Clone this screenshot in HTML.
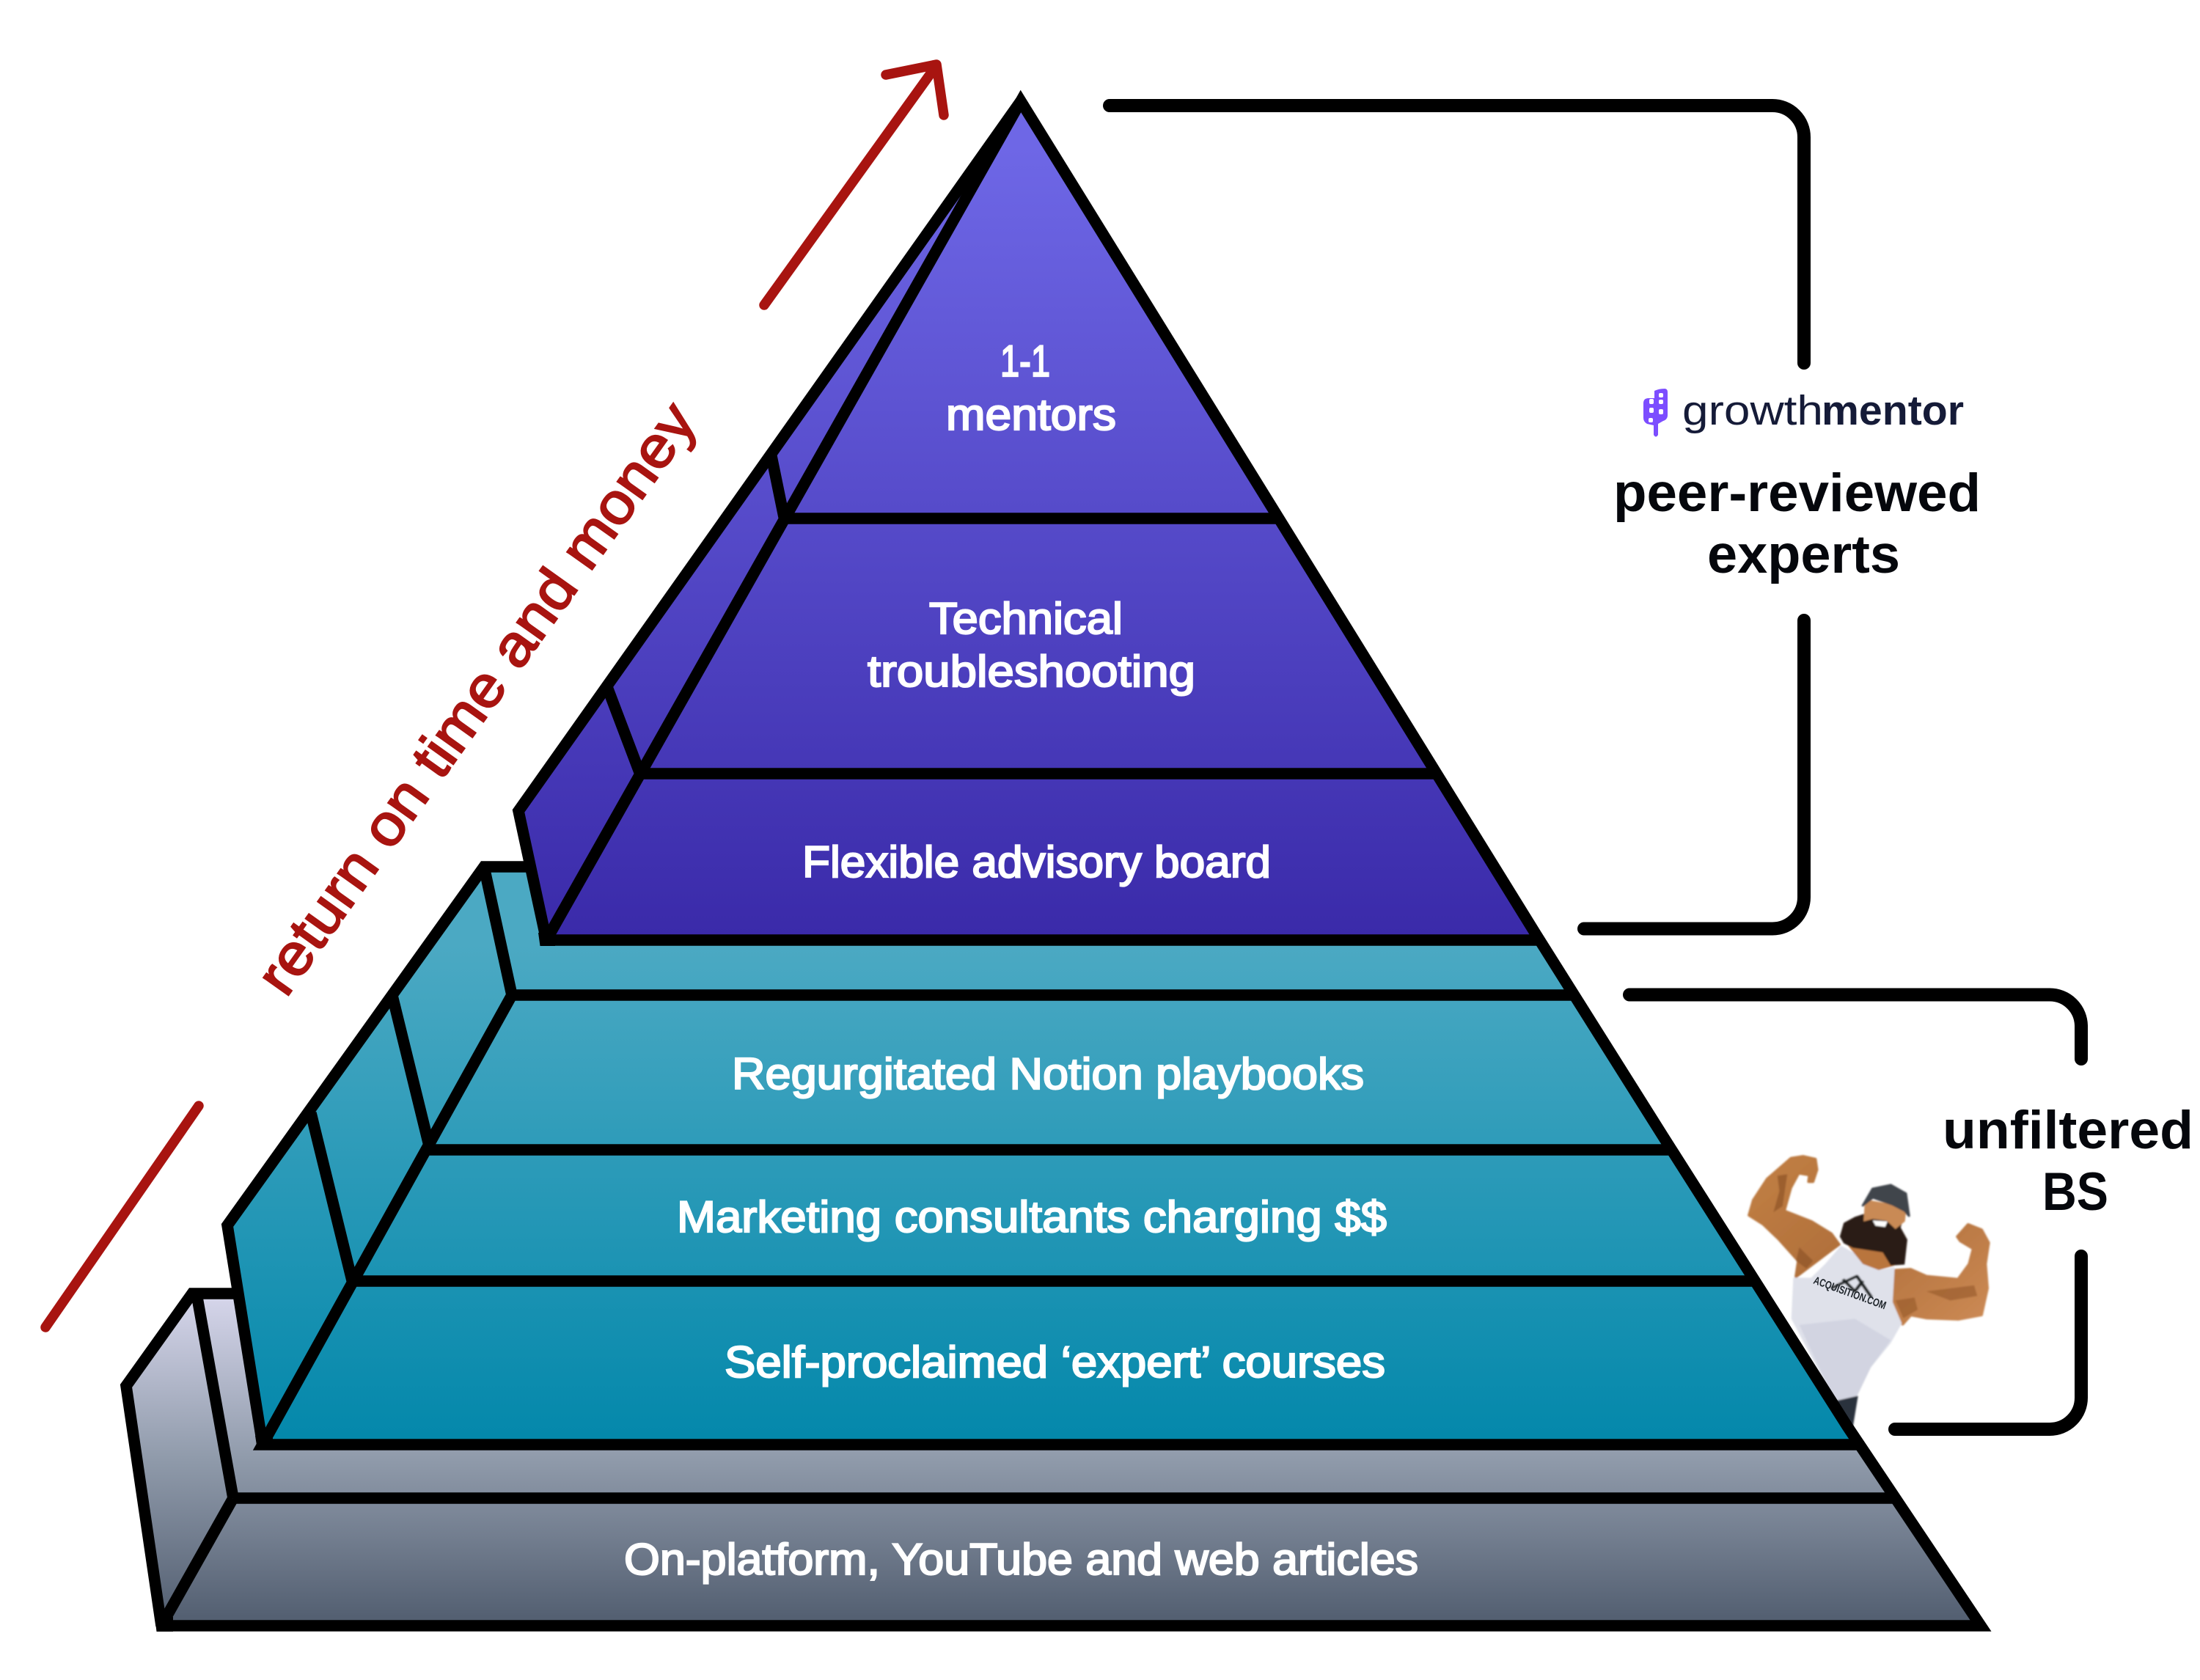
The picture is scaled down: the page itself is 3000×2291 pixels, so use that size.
<!DOCTYPE html>
<html><head><meta charset="utf-8"><style>
html,body{margin:0;padding:0;background:#fff}
svg{display:block}
text{font-family:"Liberation Sans",sans-serif}
.l{font-size:60px;fill:#fff;stroke:#fff;stroke-width:2.2px;font-weight:400}
.h{font-size:73px;fill:#05070c;font-weight:700}
</style></head><body>
<svg xmlns="http://www.w3.org/2000/svg" width="3000" height="2291" viewBox="0 0 3000 2291">
<defs>
<linearGradient id="p" gradientUnits="userSpaceOnUse" x1="0" y1="200" x2="0" y2="1280"><stop offset="0" stop-color="#6e67e6"/><stop offset="1" stop-color="#3a2aa9"/></linearGradient>
<linearGradient id="t" gradientUnits="userSpaceOnUse" x1="0" y1="1290" x2="0" y2="1960"><stop offset="0" stop-color="#4ba9c3"/><stop offset="1" stop-color="#0488ab"/></linearGradient>
<linearGradient id="g" gradientUnits="userSpaceOnUse" x1="0" y1="1770" x2="0" y2="2212"><stop offset="0" stop-color="#d5d5ea"/><stop offset=".5" stop-color="#8f9aaa"/><stop offset=".65" stop-color="#7d8899"/><stop offset="1" stop-color="#525e70"/></linearGradient>
<linearGradient id="sk" gradientUnits="userSpaceOnUse" x1="430" y1="430" x2="1040" y2="960"><stop offset="0" stop-color="#c28045"/><stop offset=".5" stop-color="#b06f3a"/><stop offset="1" stop-color="#cc8a55"/></linearGradient>
<filter id="soft" x="-5%" y="-5%" width="110%" height="110%"><feGaussianBlur stdDeviation="1.1"/></filter>
</defs>

<!-- man -->
<g filter="url(#soft)">
<g transform="translate(2150,1400) scale(.542,.415)" stroke-linejoin="round">
<path fill="url(#sk)" stroke="url(#sk)" stroke-width="8" d="M540 432 L570 426 L600 435 L604 470 L594 510 L584 510 L586 488 L558 482 L538 530 L522 605 L590 640 L640 680 L660 716 L640 735 L552 822 L558 770 L510 700 L470 650 L434 620 L445 570 L480 500Z"/>
<path fill="#8f5427" opacity=".7" d="M505 490 L530 485 L518 590 L495 610 L510 540Z M560 725 L595 770 L578 795 L552 770Z"/>
<path fill="url(#sk)" stroke="url(#sk)" stroke-width="8" d="M958 690 L985 650 L1018 667 L1036 710 L1028 780 L1033 860 L1018 948 L960 962 L880 958 L840 948 L820 978 L797 920 L802 800 L840 797 L880 820 L960 830 L988 780 L998 730 L966 705Z"/>
<path fill="#8f5427" opacity=".55" d="M802 900 L850 890 L858 930 L822 958Z M880 870 L1000 850 L1008 885 L940 900Z"/>
<path fill="#dfe1ea" d="M665 720 L625 780 L590 825 L545 825 L540 960 L560 1010 L650 1232 L705 1215 L740 1120 L790 1040 L818 975 L795 905 L800 790 L760 800 L700 745Z"/>
<path fill="#c9ccda" opacity=".6" d="M560 980 L700 960 L790 1030 L740 1120 L705 1215 L650 1232Z"/>
<path fill="#29323c" d="M650 1230 L708 1213 L695 1315 L680 1300Z"/>
<path fill="#b9743c" d="M683 720 L720 780 L760 800 L800 785 L790 730 L730 700Z"/>
<path fill="#2c1c16" d="M700 625 L672 645 L662 690 L672 712 L695 727 L735 735 L770 742 L790 785 L825 782 L832 700 L815 660 L825 620 L760 600Z"/>
<path fill="#c98a55" d="M724 590 L735 570 L830 592 L826 640 L802 665 L780 638 L745 632 L722 640Z"/>
<path fill="#fff" d="M745 637 L782 640 L776 658 L752 654Z"/>
<path fill="#40454c" stroke="#40454c" stroke-width="6" stroke-linejoin="round" d="M720 588 L745 532 L790 520 L828 548 L836 622 L826 606 L795 585 L745 562Z"/>
<path fill="none" stroke="#1c2024" stroke-width="9" d="M640 860 L705 820 L742 890 M670 830 L700 870 L720 835"/>
</g>
</g>
<text transform="translate(2472,1750) rotate(20)" font-size="15" font-weight="700" fill="#20262c" textLength="104" lengthAdjust="spacingAndGlyphs">ACQUISITION.COM</text>

<!-- fills -->
<polygon fill="url(#g)" points="262,1764 172,1890 220,2217 318,2043"/>
<polygon fill="url(#g)" points="268,1764 318,2043 2584,2043 2535,1970 358,1970 325,1764"/>
<polygon fill="url(#g)" points="318,2043 220,2217 2701,2217 2584,2043"/>
<polygon fill="url(#t)" points="660,1182 310,1671 358,1970 698,1357"/>
<polygon fill="url(#t)" points="660,1182 698,1357 2149,1357 2102,1282 745,1282 718,1182"/>
<polygon fill="url(#t)" points="698,1357 358,1970 2530,1970 2149,1357"/>
<polygon fill="url(#p)" points="1392,138 707,1108 745,1282"/>
<polygon fill="url(#p)" points="1392,138 2100,1282 745,1282"/>

<!-- lines -->
<g fill="none" stroke="#000" stroke-width="15.5" stroke-linejoin="miter" stroke-miterlimit="12">
<path d="M220 2217 L172 1890 L262 1764 L325 1764"/>
<path d="M268 1764 L318 2043 M318 2043 L220 2217"/>
<path d="M318 2043 H2584"/>
<path d="M358 1970 L310 1671 L660 1182 L718 1182"/>
<path d="M660 1182 L698 1357 L358 1970 H2535"/>
<path d="M698 1357 H2149"/>
<path d="M582 1568 H2280 M482 1747 H2391"/>
<path d="M424 1518 L480 1746 M535 1358 L586 1566"/>
<path d="M745 1282 L707 1106 L1392 138"/>
<path d="M745 1282 H2102"/>
<path d="M1071 707 H1745 M874 1055 H1961"/>
<path d="M1052 622 L1069 705 M828 937 L872 1053"/>
<path d="M220 2217 H2701 L2519 1945 L2268 1550 L2095 1275 L1392 138 L745 1282"/>
</g>
<!-- corner fillers -->
<g fill="#000">
<polygon points="213.5,2225 236,2225 236,2205 211,2205"/>
<polygon points="351,1977 372,1977 372,1958 348,1958"/>
<polygon points="736.5,1290 757,1290 757,1272 734,1272"/>
</g>

<!-- brackets -->
<g fill="none" stroke="#000" stroke-width="18" stroke-linecap="round">
<path d="M1513 144 H2417 A43 43 0 0 1 2460 187 V495"/>
<path d="M2460 846 V1223.5 A43 43 0 0 1 2417 1266.5 H2160"/>
<path d="M2222 1356.5 H2795 A43 43 0 0 1 2838 1399.5 V1444"/>
<path d="M2838 1713 V1906 A43 43 0 0 1 2795 1949 H2584"/>
</g>

<!-- red arrows -->
<g fill="none" stroke="#a81410" stroke-width="13.5" stroke-linecap="round" stroke-linejoin="round">
<path d="M62 1810 L271 1508"/>
<path d="M1042 416 L1275 92"/>
<path d="M1208 102 L1277 88 L1287 157"/>
</g>
<text transform="translate(390,1362) rotate(-54.5)" font-size="79" fill="#a81410" stroke="#a81410" stroke-width="2.2" textLength="968" lengthAdjust="spacingAndGlyphs">return on time and money</text>

<!-- labels -->
<text class="l" x="1364" y="513" textLength="68" lengthAdjust="spacingAndGlyphs">1-1</text>
<text class="l" x="1290" y="586" textLength="232" lengthAdjust="spacingAndGlyphs">mentors</text>
<text class="l" x="1267" y="864" textLength="264" lengthAdjust="spacingAndGlyphs">Technical</text>
<text class="l" x="1183" y="936" textLength="447" lengthAdjust="spacingAndGlyphs">troubleshooting</text>
<text class="l" x="1094" y="1196" textLength="639" lengthAdjust="spacingAndGlyphs">Flexible advisory board</text>
<text class="l" x="998" y="1485" textLength="862" lengthAdjust="spacingAndGlyphs">Regurgitated Notion playbooks</text>
<text class="l" x="923" y="1680" textLength="968" lengthAdjust="spacingAndGlyphs">Marketing consultants charging $$</text>
<text class="l" x="988" y="1878" textLength="901" lengthAdjust="spacingAndGlyphs">Self-proclaimed ‘expert’ courses</text>
<text class="l" x="851" y="2147" textLength="1083" lengthAdjust="spacingAndGlyphs">On-platform, YouTube and web articles</text>

<text class="h" x="2200" y="697" textLength="501" lengthAdjust="spacingAndGlyphs">peer-reviewed</text>
<text class="h" x="2328" y="781" textLength="263" lengthAdjust="spacingAndGlyphs">experts</text>
<text class="h" x="2649" y="1566" textLength="342" lengthAdjust="spacingAndGlyphs">unfiltered</text>
<text class="h" x="2785" y="1650" textLength="90" lengthAdjust="spacingAndGlyphs">BS</text>

<!-- logo -->
<path fill="#7c4dff" d="M2241 550 Q2241 543 2248 543 L2256 543 L2256 533 Q2262 530 2270 530 Q2274 530 2274 535 L2274 566 Q2274 572 2268 574 L2261 578 L2261 593 Q2258 598 2255 593 L2255 580 L2246 578 Q2241 575 2241 570Z"/>
<g fill="#fff"><rect x="2249" y="544" width="6" height="7" rx="2"/><rect x="2262" y="536" width="6" height="6" rx="2"/><rect x="2262" y="545" width="6" height="6" rx="2"/><rect x="2249" y="556" width="6" height="7" rx="2"/><rect x="2262" y="558" width="6" height="7" rx="2"/><rect x="2248" y="570" width="6" height="6" rx="2"/></g>
<text x="2294" y="579" font-size="57" fill="#151b38" textLength="192" lengthAdjust="spacingAndGlyphs">growth</text>
<text x="2484" y="579" font-size="57" font-weight="700" fill="#151b38" textLength="194" lengthAdjust="spacingAndGlyphs">mentor</text>
</svg>
</body></html>
